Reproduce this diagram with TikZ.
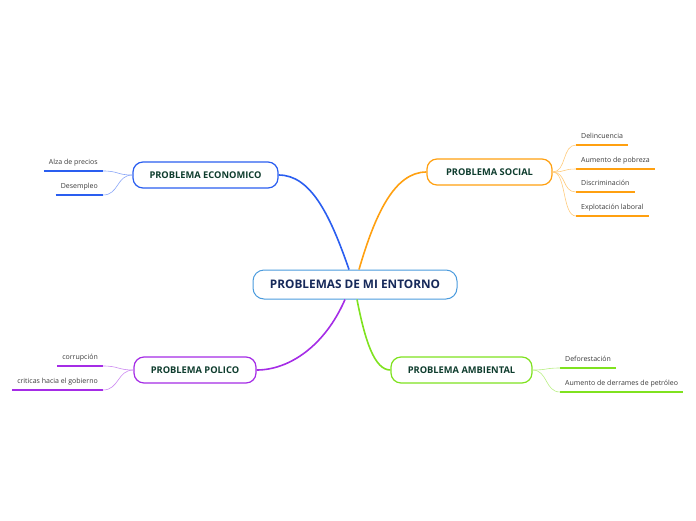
\documentclass[tikz,border=0pt]{standalone}
\usepackage{fontspec}
\setmainfont{Open Sans}
\definecolor{cblue}{HTML}{2A5EF0}
\definecolor{corange}{HTML}{FFA010}
\definecolor{cgreen}{HTML}{7FE21F}
\definecolor{cpurple}{HTML}{A52CE6}
\definecolor{ccentral}{HTML}{4A9BDD}
\definecolor{ctext}{HTML}{0F3D2E}
\definecolor{cnavy}{HTML}{172A5A}
\definecolor{cleaf}{HTML}{3A3A3A}
\begin{document}
\begin{tikzpicture}[x=1pt,y=-1pt,
  central/.style={draw=ccentral,line width=1pt,fill=white,rounded corners=11pt,
    minimum width=204pt,minimum height=29pt,inner sep=0pt,
    font=\fontsize{11.8}{13}\selectfont\bfseries,text=cnavy},
  branch/.style={draw=#1,line width=1.2pt,fill=white,rounded corners=10pt,
    minimum height=26pt,inner sep=0pt,
    font=\fontsize{9.3}{11}\selectfont\bfseries,text=ctext},
  leaf/.style={inner xsep=5pt,inner ysep=4.5pt,text height=5pt,text depth=1.5pt,
    font=\fontsize{7}{8}\selectfont,text=cleaf},
  leafL/.style={leaf,anchor=south east},
  leafR/.style={leaf,anchor=south west},
  uline/.style={draw=#1,line width=1.5pt},
  mainc/.style={draw=#1,line width=1.6pt},
  subc/.style={draw=#1!55,line width=0.6pt}
]
\useasboundingbox (0,0) rectangle (696,520);
% central
\node[central] (c) at (355,284.5) {PROBLEMAS DE MI ENTORNO};
% branches
\node[branch=cblue,minimum width=145pt] (eco) at (205.5,175) {PROBLEMA ECONOMICO};
\node[branch=corange,minimum width=125pt] (soc) at (489.5,172) {PROBLEMA SOCIAL};
\node[branch=cgreen,minimum width=141pt] (amb) at (461.5,370) {PROBLEMA AMBIENTAL};
\node[branch=cpurple,minimum width=122pt] (pol) at (195,370) {PROBLEMA POLICO};
% main connectors
\draw[mainc=cblue] ([xshift=-6pt]c.north) .. controls +(-19,-55) and +(32,0) .. (eco.east);
\draw[mainc=corange] ([xshift=4pt]c.north) .. controls +(16,-55) and +(-32,0) .. (soc.west);
\draw[mainc=cpurple] ([xshift=-10pt]c.south) .. controls +(-20,46) and +(33,0) .. (pol.east);
\draw[mainc=cgreen] ([xshift=2pt]c.south) .. controls +(8,41) and +(-16,0) .. (amb.west);
% economic leaves
\node[leafL] (e1) at (103,171) {Alza de precios};
\node[leafL] (e2) at (103,195) {Desempleo};
% social leaves
\node[leafR] (s1) at (576,145) {Delincuencia};
\node[leafR] (s2) at (576,169) {Aumento de pobreza};
\node[leafR] (s3) at (576,192) {Discriminación};
\node[leafR] (s4) at (576,216) {Explotación laboral};
% ambiental leaves
\node[leafR] (a1) at (560,368) {Deforestación};
\node[leafR] (a2) at (560,392) {Aumento de derrames de petróleo};
% politico leaves
\node[leafL] (p1) at (103,366) {corrupción};
\node[leafL] (p2) at (103,390) {criticas hacia el gobierno};
% underlines
\foreach \n in {e1,e2} \draw[uline=cblue] (\n.south west) -- (\n.south east);
\foreach \n in {s1,s2,s3,s4} \draw[uline=corange] (\n.south west) -- (\n.south east);
\foreach \n in {a1,a2} \draw[uline=cgreen] (\n.south west) -- (\n.south east);
\foreach \n in {p1,p2} \draw[uline=cpurple] (\n.south west) -- (\n.south east);
% sub connectors
\foreach \n in {e1,e2} \draw[subc=cblue] (eco.west) .. controls +(-16,0) and +(16,0) .. (\n.south east);
\foreach \n in {s1,s2,s3,s4} \draw[subc=corange] (soc.east) .. controls +(14,0) and +(-14,0) .. (\n.south west);
\foreach \n in {a1,a2} \draw[subc=cgreen] (amb.east) .. controls +(15,0) and +(-15,0) .. (\n.south west);
\foreach \n in {p1,p2} \draw[subc=cpurple] (pol.west) .. controls +(-16,0) and +(16,0) .. (\n.south east);
\end{tikzpicture}
\end{document}
